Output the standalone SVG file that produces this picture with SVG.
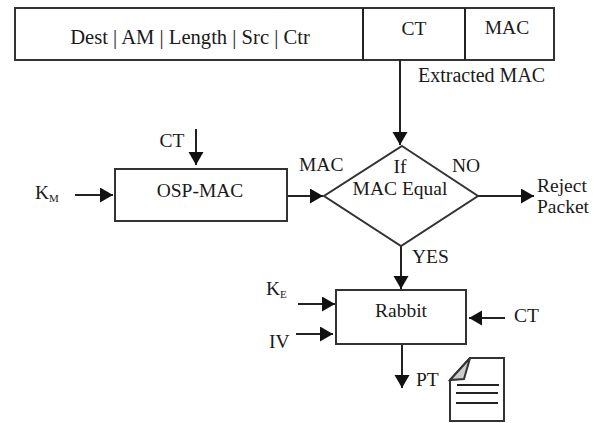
<svg xmlns="http://www.w3.org/2000/svg" width="600" height="423" viewBox="0 0 600 423">
<defs>
<style>
text{font-family:"Liberation Serif","Times New Roman",serif;font-size:19.5px;fill:#1a1a1a}
.box{fill:#fff;stroke:#333;stroke-width:2}
.ln{fill:none;stroke:#222;stroke-width:2}
.sub{font-size:11px}
.wide{font-size:20.6px}
.mid{font-size:20px}
</style>
<marker id="arr" markerUnits="userSpaceOnUse" markerWidth="14" markerHeight="16" refX="13" refY="7.5" orient="auto"><path d="M0 0L13 7.5L0 15Z" fill="#111"/></marker>
</defs>
<rect width="600" height="423" fill="#fff"/>
<g id="packet">
<rect class="box" x="15" y="8" width="539" height="52"/>
<path class="ln" d="M363 8V60M465 8V60"/>
<text class="wide" x="190" y="44" text-anchor="middle">Dest | AM | Length | Src | Ctr</text>
<text x="414" y="35" text-anchor="middle">CT</text>
<text x="507" y="34" text-anchor="middle">MAC</text>
</g>
<g id="connectors">
<path class="ln" d="M400 60V145" marker-end="url(#arr)"/>
<path class="ln" d="M196 129V165" marker-end="url(#arr)"/>
<path class="ln" d="M75 195H113" marker-end="url(#arr)"/>
<path class="ln" d="M287 196H323" marker-end="url(#arr)"/>
<path class="ln" d="M478 196H534" marker-end="url(#arr)"/>
<path class="ln" d="M401 246V289" marker-end="url(#arr)"/>
<path class="ln" d="M298 304H335" marker-end="url(#arr)"/>
<path class="ln" d="M296 334H333" marker-end="url(#arr)"/>
<path class="ln" d="M505 318H469" marker-end="url(#arr)"/>
<path class="ln" d="M402 344V388" marker-end="url(#arr)"/>
</g>
<g id="osp-mac">
<rect class="box" x="115" y="169" width="172" height="52"/>
<text x="200" y="197" text-anchor="middle">OSP-MAC</text>
</g>
<g id="decision">
<path class="box" d="M402 146L478 196L401 246L324 196Z"/>
<text x="400" y="173" text-anchor="middle">If</text>
<text x="400" y="195" text-anchor="middle">MAC Equal</text>
</g>
<g id="rabbit">
<rect class="box" x="336" y="290" width="130" height="54"/>
<text x="401" y="317" text-anchor="middle">Rabbit</text>
</g>
<g id="document">
<path class="box" d="M470 358H504V421H450V380Z"/>
<path d="M470 358L450 380L464 379Z" fill="#ccc" stroke="#333" stroke-width="2"/>
<path class="ln" d="M457 385H499M456 393H498M456 403H498"/>
</g>
<g id="labels">
<text class="mid" x="418" y="82">Extracted MAC</text>
<text x="172" y="147" text-anchor="middle">CT</text>
<text x="35" y="199">K<tspan class="sub" dy="3">M</tspan></text>
<text x="299" y="171">MAC</text>
<text x="452" y="172">NO</text>
<text x="537" y="192">Reject</text>
<text x="537" y="213">Packet</text>
<text x="412" y="263">YES</text>
<text x="266" y="295">K<tspan class="sub" dy="3">E</tspan></text>
<text x="269" y="348">IV</text>
<text x="514" y="322">CT</text>
<text x="416" y="386">PT</text>
</g>
</svg>
